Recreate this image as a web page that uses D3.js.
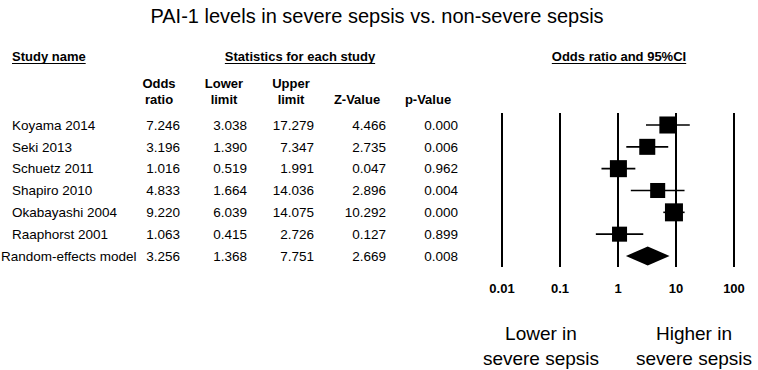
<!DOCTYPE html>
<html>
<head>
<meta charset="utf-8">
<script src="https://cdn.jsdelivr.net/npm/d3@7"></script>
<style>
  body { margin: 0; background: #fff; }
  svg { font-family: "Liberation Sans", Arial, sans-serif; }
  .hdr { font-weight: bold; font-size: 13px; }
  .cell { font-size: 13.5px; }
</style>
</head>
<body>
<div id="chart"></div>
<script>
// data
var studies = ["Koyama 2014", "Seki 2013", "Schuetz 2011", "Shapiro 2010", "Okabayashi 2004", "Raaphorst 2001"];
var oddsRatio = [7.246, 3.196, 1.016, 4.833, 9.220, 1.063];
var lowerLimit = [3.038, 1.390, 0.519, 1.664, 6.039, 0.415];
var upperLimit = [17.279, 7.347, 1.991, 14.036, 14.075, 2.726];
var zValue = [4.466, 2.735, 0.047, 2.896, 10.292, 0.127];
var pValue = [0.000, 0.006, 0.962, 0.004, 0.000, 0.899];
var weights = [18.0, 15.9, 18.0, 14.0, 20.1, 14.0];

var summaryName = "Random-effects model";
var summaryStats = [3.256, 1.368, 7.751, 2.669, 0.008];

var axisTicks = [0.01, 0.1, 1, 10, 100];

var width = 758, height = 370;

var svg = d3.select("#chart").append("svg")
    .attr("width", width)
    .attr("height", height);

// title
svg.append("text")
    .attr("x", 377).attr("y", 23)
    .attr("text-anchor", "middle")
    .style("font-size", "20px")
    .text("PAI-1 levels in severe sepsis vs. non-severe sepsis");

// section headers (underlined)
function header(x, anchor, label) {
    var t = svg.append("text")
        .attr("class", "hdr")
        .attr("x", x).attr("y", 61)
        .attr("text-anchor", anchor)
        .text(label);
    var w = t.node().getComputedTextLength();
    var x0 = anchor == "middle" ? x - w / 2 : x;
    svg.append("line")
        .attr("x1", x0).attr("x2", x0 + w)
        .attr("y1", 63.5).attr("y2", 63.5)
        .attr("stroke", "#000").attr("stroke-width", 1);
}
header(12, "start", "Study name");
header(300, "middle", "Statistics for each study");
header(619, "middle", "Odds ratio and 95%CI");

// column headers
var colHeads = [["Odds", "ratio"], ["Lower", "limit"], ["Upper", "limit"], ["", "Z-Value"], ["", "p-Value"]];
var colCenters = [159, 224, 291, 357, 428];
var colRight = [180, 247, 314, 386, 458];

colHeads.forEach(function(h, i) {
    h.forEach(function(s, j) {
        svg.append("text")
            .attr("class", "hdr")
            .attr("x", colCenters[i])
            .attr("y", 88 + j * 16)
            .attr("text-anchor", "middle")
            .text(s);
    });
});

// rows
var rowY = d3.scalePoint()
    .domain(d3.range(studies.length + 1))
    .range([125, 256]);

var rows = studies.map(function(d, i) {
    return [d, oddsRatio[i], lowerLimit[i], upperLimit[i], zValue[i], pValue[i]];
});
rows.push([summaryName].concat(summaryStats));

var rowG = svg.append("g").selectAll("g")
    .data(rows)
    .enter().append("g")
    .attr("transform", function(d, i) { return "translate(0," + rowY(i) + ")"; });

rowG.append("text")
    .attr("class", "cell")
    .attr("x", function(d, i) { return i == studies.length ? 1 : 12; })
    .attr("dy", "0.35em")
    .text(function(d) { return d[0]; });

rowG.selectAll("text.num")
    .data(function(d) { return d.slice(1); })
    .enter().append("text")
    .attr("class", "cell num")
    .attr("x", function(d, j) { return colRight[j]; })
    .attr("dy", "0.35em")
    .attr("text-anchor", "end")
    .text(function(d) { return d3.format(".3f")(d); });

// forest plot
var x = d3.scaleLog().domain([0.01, 100]).range([502, 734]);
var size = d3.scaleSqrt().domain([0, d3.max(weights)]).range([0, 18]);

var plot = svg.append("g");

plot.selectAll("line.grid")
    .data(axisTicks)
    .enter().append("line")
    .attr("class", "grid")
    .attr("x1", function(d) { return x(d); })
    .attr("x2", function(d) { return x(d); })
    .attr("y1", 113).attr("y2", 267)
    .attr("stroke", "#000").attr("stroke-width", 2);

plot.selectAll("text.tick")
    .data(axisTicks)
    .enter().append("text")
    .attr("class", "hdr tick")
    .attr("x", function(d) { return x(d); })
    .attr("y", 288)
    .attr("dy", "0.35em")
    .attr("text-anchor", "middle")
    .text(function(d) { return d; });

plot.selectAll("line.ci")
    .data(studies)
    .enter().append("line")
    .attr("class", "ci")
    .attr("x1", function(d, i) { return x(lowerLimit[i]); })
    .attr("x2", function(d, i) { return x(upperLimit[i]); })
    .attr("y1", function(d, i) { return rowY(i); })
    .attr("y2", function(d, i) { return rowY(i); })
    .attr("stroke", "#000").attr("stroke-width", 1.6);

plot.selectAll("rect.box")
    .data(studies)
    .enter().append("rect")
    .attr("class", "box")
    .attr("x", function(d, i) { return x(oddsRatio[i]) - size(weights[i]) / 2; })
    .attr("y", function(d, i) { return rowY(i) - size(weights[i]) / 2; })
    .attr("width", function(d, i) { return size(weights[i]); })
    .attr("height", function(d, i) { return size(weights[i]); })
    .attr("fill", "#000");

var sy = rowY(studies.length);
plot.append("path")
    .attr("d", d3.line()([
        [x(summaryStats[1]), sy],
        [x(summaryStats[0]), sy - 9.5],
        [x(summaryStats[2]), sy],
        [x(summaryStats[0]), sy + 9.5]
    ]) + "Z")
    .attr("fill", "#000");

// direction labels
var dirLabels = [[541, "Lower in", "severe sepsis"], [694, "Higher in", "severe sepsis"]];
dirLabels.forEach(function(d) {
    svg.append("text")
        .attr("x", d[0]).attr("y", 340)
        .attr("text-anchor", "middle")
        .style("font-size", "19px")
        .text(d[1]);
    svg.append("text")
        .attr("x", d[0]).attr("y", 365)
        .attr("text-anchor", "middle")
        .style("font-size", "19px")
        .text(d[2]);
});
</script>
</body>
</html>
